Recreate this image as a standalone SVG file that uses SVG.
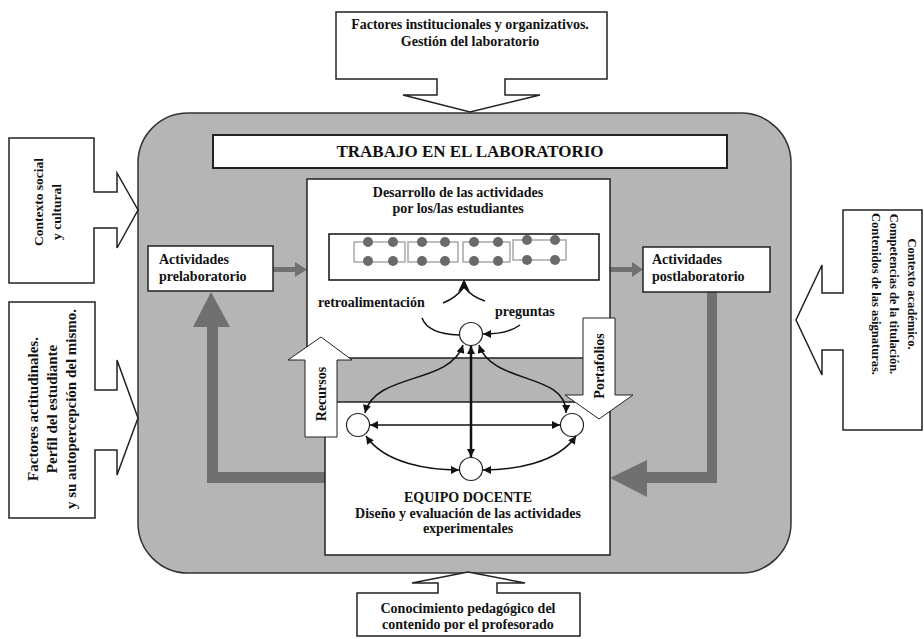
<svg xmlns="http://www.w3.org/2000/svg" width="924" height="639" viewBox="0 0 924 639">
<defs>
<style>
.t{font-family:"Liberation Serif","Times New Roman",serif;font-weight:bold;fill:#111;}
.box{fill:#fff;stroke:#222;stroke-width:1.5;}
.bg{fill:#b5b5b5;stroke:#333;stroke-width:1.5;}
.big{fill:#707070;}
.con{fill:none;stroke:#111;stroke-width:1.5;}
.grp{fill:none;stroke:#a8a8a8;stroke-width:1.5;}
.dot{fill:#6a6a6a;}
</style>
<marker id="ah" viewBox="0 0 10 10" refX="10" refY="5" markerWidth="9" markerHeight="8" markerUnits="userSpaceOnUse" orient="auto-start-reverse">
<path d="M0,0 L10,5 L0,10 z" fill="#111"/>
</marker>
</defs>
<rect width="924" height="639" fill="#fff"/>

<g id="lab-area">
<rect class="bg" x="138" y="113" width="653" height="460" rx="50" ry="50"/>
</g>

<g id="factores-institucionales">
<path class="box" d="M336,12 H607 V79 H505 V95 H540 L470,112 L403,95 H437 V79 H336 Z"/>
<text class="t" x="470" y="29" font-size="14" text-anchor="middle">Factores institucionales y organizativos.</text>
<text class="t" x="470" y="46" font-size="14" text-anchor="middle">Gestión del laboratorio</text>
</g>

<g id="contexto-social">
<path class="box" d="M9,138 H94 V192 H117 V173 L138,210 L117,248 V228 H94 V283 H9 Z"/>
<text class="t" font-size="13.5" text-anchor="middle" transform="translate(43,202) rotate(-90)">Contexto social</text>
<text class="t" font-size="13.5" text-anchor="middle" transform="translate(61,212) rotate(-90)">y cultural</text>
</g>

<g id="factores-actitudinales">
<path class="box" d="M9,302 H95 V390 H117 V360 L138,418 L117,475 V450 H95 V518 H9 Z"/>
<text class="t" font-size="15" text-anchor="middle" transform="translate(38,409) rotate(-90)">Factores actitudinales.</text>
<text class="t" font-size="15" text-anchor="middle" transform="translate(57,409) rotate(-90)">Perfil del estudiante</text>
<text class="t" font-size="15" text-anchor="middle" transform="translate(76,409) rotate(-90)">y su autopercepción del mismo.</text>
</g>

<g id="contexto-academico">
<path class="box" d="M843,210 H922 V430 H843 V350 H822 V375 L796,320 L822,265 V293 H843 Z"/>
<text class="t" font-size="12.5" text-anchor="middle" transform="translate(908,294) rotate(90)">Contexto académico.</text>
<text class="t" font-size="12.5" text-anchor="middle" transform="translate(890,294) rotate(90)">Competencias de la titulación.</text>
<text class="t" font-size="12.5" text-anchor="middle" transform="translate(872,294) rotate(90)">Contenidos de las asignaturas.</text>
</g>

<g id="conocimiento-pedagogico">
<path class="box" d="M357,593 H438 V583 H412 L468,572 L525,583 H497 V593 H580 V636 H357 Z"/>
<text class="t" x="468" y="613" font-size="14" text-anchor="middle">Conocimiento pedagógico del</text>
<text class="t" x="468" y="629" font-size="14" text-anchor="middle">contenido por el profesorado</text>
</g>

<g id="titulo">
<rect class="box" x="213" y="135" width="514" height="33" style="stroke-width:2"/>
<text class="t" x="470" y="157" font-size="17" text-anchor="middle">TRABAJO EN EL LABORATORIO</text>
</g>

<g id="connectors">
<path class="big" d="M273,267 H295 V262 L307,269.5 L295,277 V272 H273 Z"/>
<path class="big" d="M610,267 H632 V262 L643,269.5 L632,277 V272 H610 Z"/>
<path class="big" d="M325,472 H218 V327 H230 L211,292 L193,327 H207 V483 H325 Z"/>
<path class="big" d="M707,292 H717 V483 H647 V497 L610,478 L647,460 V472 H707 Z"/>
</g>

<g id="desarrollo">
<rect class="box" x="307" y="179" width="303" height="179"/>
<text class="t" x="458" y="197" font-size="14" text-anchor="middle">Desarrollo de las actividades</text>
<text class="t" x="458" y="213" font-size="14" text-anchor="middle">por los/las estudiantes</text>
<rect x="329" y="234" width="270" height="46" fill="#fff" stroke="#111" stroke-width="1.5"/>
<rect class="grp" x="354" y="242" width="51" height="20"/>
<rect class="grp" x="408" y="242" width="50" height="20"/>
<rect class="grp" x="463" y="242" width="47" height="20"/>
<rect class="grp" x="513" y="240" width="53" height="20"/>
<circle class="dot" cx="368" cy="242" r="5"/><circle class="dot" cx="393" cy="242" r="5"/>
<circle class="dot" cx="368" cy="261" r="5"/><circle class="dot" cx="393" cy="261" r="5"/>
<circle class="dot" cx="422" cy="242" r="5"/><circle class="dot" cx="445" cy="242" r="5"/>
<circle class="dot" cx="422" cy="261" r="5"/><circle class="dot" cx="445" cy="261" r="5"/>
<circle class="dot" cx="474" cy="242" r="5"/><circle class="dot" cx="498" cy="242" r="5"/>
<circle class="dot" cx="474" cy="261" r="5"/><circle class="dot" cx="498" cy="261" r="5"/>
<circle class="dot" cx="527" cy="240" r="5"/><circle class="dot" cx="555" cy="240" r="5"/>
<circle class="dot" cx="527" cy="260" r="5"/><circle class="dot" cx="555" cy="260" r="5"/>
<text class="t" x="318" y="307" font-size="14">retroalimentación</text>
<text class="t" x="495" y="316" font-size="14">preguntas</text>
</g>

<g id="equipo-docente">
<rect class="box" x="325" y="402" width="285" height="153"/>
<text class="t" x="468" y="502" font-size="14" text-anchor="middle">EQUIPO DOCENTE</text>
<text class="t" x="468" y="518" font-size="14" text-anchor="middle">Diseño y evaluación de las actividades</text>
<text class="t" x="468" y="533" font-size="14" text-anchor="middle">experimentales</text>
</g>

<g id="prelaboratorio">
<rect class="box" x="148" y="246" width="125" height="45"/>
<text class="t" x="159" y="264" font-size="14">Actividades</text>
<text class="t" x="159" y="281" font-size="14">prelaboratorio</text>
</g>

<g id="postlaboratorio">
<rect class="box" x="643" y="247" width="127" height="45"/>
<text class="t" x="652" y="264" font-size="14">Actividades</text>
<text class="t" x="652" y="281" font-size="14">postlaboratorio</text>
</g>

<g id="recursos">
<path class="box" style="stroke-width:1" d="M305,437 V360 H288 L321,337 L352,360 H337 V437 Z"/>
<text class="t" font-size="14" text-anchor="middle" transform="translate(326,394) rotate(-90)">Recursos</text>
</g>

<g id="portafolios">
<path class="box" style="stroke-width:1" d="M583,318 H615 V395 H633 L599,419 L565,395 H583 Z"/>
<text class="t" font-size="14" text-anchor="middle" transform="translate(604,366) rotate(-90)">Portafolios</text>
</g>

<g id="nodo-superior"><circle class="box" cx="471" cy="334" r="11.5" style="stroke-width:1.2"/></g>
<g id="nodo-izquierdo"><circle class="box" cx="358" cy="425" r="11.5" style="stroke-width:1.2"/></g>
<g id="nodo-derecho"><circle class="box" cx="572" cy="425" r="11.5" style="stroke-width:1.2"/></g>
<g id="nodo-inferior"><circle class="box" cx="471" cy="469" r="11.5" style="stroke-width:1.2"/></g>

<g id="connectors-team">
<path class="con" d="M443,303 Q456,298 464,287"/>
<path class="con" d="M485,301 Q472,297 464,287"/>
<path d="M464,279 L470,292 L464,288 L458,292 Z" fill="#111"/>
<path class="con" d="M422,318 Q428,334 459,335"/>
<path class="con" d="M520,325 Q508,334 483,334" marker-end="url(#ah)"/>
<path class="con" d="M471,346 V457" style="stroke-width:2.5" marker-start="url(#ah)" marker-end="url(#ah)"/>
<path class="con" d="M370,425 H560" marker-start="url(#ah)" marker-end="url(#ah)"/>
<path class="con" d="M463,345 C450,385 375,372 365,413" marker-start="url(#ah)" marker-end="url(#ah)"/>
<path class="con" d="M479,345 C492,385 567,372 566,413" marker-start="url(#ah)" marker-end="url(#ah)"/>
<path class="con" d="M366,436 C385,464 430,470 459,470" marker-start="url(#ah)" marker-end="url(#ah)"/>
<path class="con" d="M576,436 C557,464 512,470 483,470" marker-start="url(#ah)" marker-end="url(#ah)"/>
</g>
</svg>
